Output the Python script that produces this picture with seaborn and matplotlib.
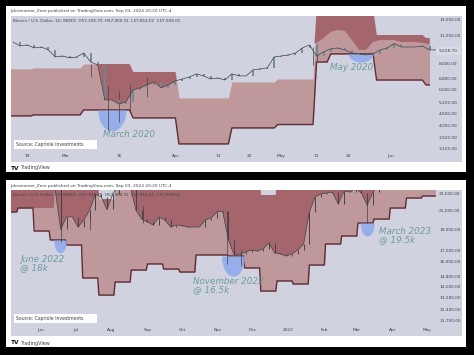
import matplotlib
matplotlib.use("Agg")
import matplotlib.pyplot as plt
import matplotlib.dates as mdates
from matplotlib.patches import Rectangle
from matplotlib.ticker import NullLocator
import numpy as np
import pandas as pd
import seaborn as sns

# ---- top chart (2020), prices
top_start = "2020-02-15"
top_close = [10180, 9740, 9850, 9530, 9630, 9320, 8620, 8715, 8525, 8620, 9000, 8150, 7880, 5345, 5345,
             5110, 5225, 5970, 6110, 6320, 6530, 6110, 6320, 6605, 6750, 6900, 7140, 6980, 6750, 6825,
             6670, 7140, 6980, 6980, 7465, 7550, 7630, 8620, 8715, 8815, 9000, 9530, 9850, 8715, 9120,
             9430, 9530, 9320, 9000, 8915, 8815, 8915, 9320, 9530, 10000, 9630, 9630, 9630, 9740, 9320, 9320]
top_wave = [10070, 10640, 11380, 11630, 11500, 10400, 9320, 9320, 10180, 10400, 10400, 10400, 10180,
            10180, 10180, 10070, 9960, 9740]
top_wick_dates = ["2020-03-08", "2020-03-13", "2020-03-16", "2020-03-19", "2020-05-10", "2020-05-11", "2020-03-24"]
top_wick_low = [6900, 3830, 4200, 4650, 7900, 8200, 5500]
top_wick_high = [8000, 6300, 5900, 6400, 9600, 9900, 6900]
top_band_dates = ["2020-02-14", "2020-02-21", "2020-03-06", "2020-03-20", "2020-04-02", "2020-04-17",
                  "2020-04-30", "2020-05-11", "2020-05-15", "2020-05-28", "2020-06-11"]
top_lower = [4475, 4525, 4782, 4376, 3277, 3915, 4065, 8150, 8915, 6670, 6315]
top_upper = [7550, 7630, 7970, 7295, 5465, 6525, 6750, 14500, 14500, 11000, 10640]
top_end = "2020-06-12"
top_ticks = [13000, 11000, 9228.7, 8000, 6800, 6000, 5200, 4600, 4000, 3500, 3100]
top_ticklabels = ["13,000.00", "11,000.00", "9,228.70", "8,000.00", "6,800.00", "6,000.00", "5,200.00",
                  "4,600.00", "4,000.00", "3,500.00", "3,100.00"]
top_xdates = ["2020-02-19", "2020-03-01", "2020-03-16", "2020-04-01", "2020-04-13", "2020-04-22",
              "2020-05-01", "2020-05-11", "2020-05-20", "2020-06-01"]
top_xlabels = ["19", "Mar", "16", "Apr", "13", "22", "May", "11", "20", "Jun"]

# ---- bottom chart (2022-23)
bot_start = "2022-06-13"
bot_close = [23600, 18970, 20270, 20270, 19210, 19940, 21020, 22880, 22520, 21080, 22880, 24000, 24300,
             23900, 21020, 20040, 19730, 19415, 20270, 19940, 19210, 19415, 19350, 19210, 19210, 19210,
             19940, 20150, 20800, 20900, 17940, 16570, 16660, 16830, 17010, 16920, 17100, 17650, 16750,
             16660, 16480, 16660, 17010, 17560, 20800, 22520, 22880, 23000, 23120, 21700, 23240, 23120,
             23600, 23000, 21570, 23120, 24000]
bot_floor_dates = ["2022-05-06", "2022-05-11", "2022-05-12", "2022-06-12"]
bot_floor = [20800, 20800, 21245, 21245]
bot_wick_dates = ["2022-06-18", "2022-07-13", "2022-08-28", "2022-11-09", "2022-11-21", "2023-03-10"]
bot_wick_low = [17700, 18900, 19600, 15800, 15600, 19620]
bot_wick_high = [21000, 20800, 21500, 20900, 17000, 22500]
bot_band_dates = ["2022-04-28", "2022-05-12", "2022-05-26", "2022-06-09", "2022-06-23", "2022-07-07",
                  "2022-07-21", "2022-08-04", "2022-08-18", "2022-09-01", "2022-09-15", "2022-09-29",
                  "2022-10-13", "2022-10-27", "2022-11-10", "2022-11-24", "2022-12-08", "2022-12-22",
                  "2023-01-05", "2023-01-19", "2023-02-02", "2023-02-16", "2023-03-02", "2023-03-16",
                  "2023-03-30", "2023-04-13", "2023-04-27"]
bot_lower = [20800, 21245, 18810, 17940, 17465, 14670, 13400, 14360, 15300, 15800, 15380, 15140, 16570,
             16570, 16480, 15470, 13690, 14440, 14210, 15710, 17560, 18320, 19620, 20040, 21245, 22400, 22640]
bot_upper = [26000, 26000, 26000, 26000, 26000, 26000, 22280, 26000, 26000, 26000, 26000, 26000, 26000,
             26000, 26000, 26000, 22760, 26000, 26000, 26000, 26000, 26000, 26000, 26000, 26000, 26000, 26000]
bot_end = "2023-05-08"
bot_ticks = [23000, 21000, 19000, 17000, 16000, 14800, 14000, 13200, 12400, 11700]
bot_ticklabels = ["23,000.00", "21,000.00", "19,000.00", "17,000.00", "16,000.00", "14,800.00", "14,000.00",
                  "13,200.00", "12,400.00", "11,700.00"]
bot_xdates = ["2022-06-01", "2022-07-01", "2022-08-01", "2022-09-01", "2022-10-01", "2022-11-01",
              "2022-12-01", "2023-01-01", "2023-02-01", "2023-03-01", "2023-04-01", "2023-05-01"]
bot_xlabels = ["Jun", "Jul", "Aug", "Sep", "Oct", "Nov", "Dec", "2023", "Feb", "Mar", "Apr", "May"]

# blue zones: start, end, top price, lowest price
top_zones = [("2020-03-10", "2020-03-18", 4782, 3790), ("2020-05-20", "2020-05-27", 8915, 8150)]
bot_zones = [("2022-06-12", "2022-06-23", 17940, 16750), ("2022-11-04", "2022-11-24", 16480, 14820),
             ("2023-03-04", "2023-03-16", 19620, 18320)]

BG = "#d0d3df"
BAND = "#bf989b"
DARK = "#a4666c"
LINE = "#5e2c36"
BLUE = "#8fa8ee"
NOTE = "#6e9a9e"
INK = "#3c4148"
W, H = 474, 355


def daily(dates, levels, end):
    s = pd.Series(levels, index=pd.to_datetime(dates), dtype=float)
    return s.reindex(pd.date_range(s.index[0], end)).ffill()


def px_text(x, y, s, **kw):
    fig.text(x / W, 1 - y / H, s, **kw)


def px_rect(x0, y0, x1, y1, color, z=0):
    fig.add_artist(Rectangle((x0 / W, 1 - y1 / H), (x1 - x0) / W, (y1 - y0) / H, transform=fig.transFigure,
                             color=color, lw=0, zorder=z))


def draw_panel(ax, close_dates, close, floor, lower, upper, wd, wl, wh, zones, ticks, ticklabels, xd, xl,
               candle_lw, candle_color):
    ax.set_facecolor(BG)
    ax.grid(False)
    for sp in ax.spines.values():
        sp.set_visible(False)
    ax.fill_between(lower.index, lower.values, upper.values, color=BAND, lw=0, zorder=1)
    floor_daily = np.interp(lower.index.asi8, floor.index.asi8, floor.values)
    ax.fill_between(lower.index, floor_daily, upper.values, where=floor_daily < upper.values, interpolate=True,
                    color=DARK, lw=0, zorder=2)
    sns.lineplot(x=lower.index, y=lower.values, ax=ax, color=LINE, lw=1.0, zorder=3)
    for start, end, hi, lo in zones:
        a, b = mdates.date2num(pd.Timestamp(start)), mdates.date2num(pd.Timestamp(end))
        t = np.linspace(-1, 1, 50)
        curve = np.exp(np.log(hi) + (np.log(lo) - np.log(hi)) * np.sqrt(1 - t ** 2))
        ax.fill_between((a + b) / 2 + t * (b - a) / 2, curve, hi, color=BLUE, alpha=0.85, lw=0, zorder=4)
    ax.vlines(pd.to_datetime(wd), wl, wh, color=INK, lw=0.5, zorder=5)
    ax.vlines(close_dates[1:], close[:-1], close[1:], color=candle_color, lw=candle_lw, zorder=5)
    sns.lineplot(x=close_dates, y=close, ax=ax, color=INK, lw=0.5, zorder=6)
    ax.set_yscale("log")
    ax.yaxis.set_minor_locator(NullLocator())
    ax.yaxis.tick_right()
    ax.set_yticks(ticks)
    ax.set_yticklabels(ticklabels)
    ax.set_xticks(pd.to_datetime(xd))
    ax.set_xticklabels(xl)
    ax.tick_params(axis="y", which="both", length=0, pad=-16.5, labelsize=3.1, labelcolor=INK)
    ax.tick_params(axis="x", which="both", length=0, pad=-5.5, labelsize=3.1, labelcolor=INK)
    ax.set_xlabel("")
    ax.set_ylabel("")


sns.set_theme(style="white")
plt.rcParams["font.family"] = ["DejaVu Sans"]
fig = plt.figure(figsize=(W / 100, H / 100), dpi=100, facecolor="black")

px_rect(6, 6, 466, 172, "white")
px_rect(6, 180, 466, 347, "white")

ax1 = fig.add_axes([11 / W, 1 - 162 / H, 451 / W, 146 / H])
ax2 = fig.add_axes([11 / W, 1 - 336 / H, 451 / W, 146 / H])

t_dates = pd.date_range(top_start, periods=len(top_close), freq="2D")
t_floor = pd.Series(top_close[:-len(top_wave)] + top_wave, index=t_dates, dtype=float)
draw_panel(ax1, t_dates, np.array(top_close, dtype=float), t_floor,
           daily(top_band_dates, top_lower, top_end), daily(top_band_dates, top_upper, top_end),
           top_wick_dates, top_wick_low, top_wick_high, top_zones, top_ticks, top_ticklabels,
           top_xdates, top_xlabels, 1.3, "#6d8a8e")
ax1.set_xlim(pd.Timestamp("2020-02-14 10:00"), pd.Timestamp("2020-06-21 05:00"))
ax1.set_ylim(2680, 13590)

b_dates = pd.date_range(bot_start, periods=len(bot_close), freq="5D")
b_floor = pd.concat([pd.Series(bot_floor, index=pd.to_datetime(bot_floor_dates), dtype=float),
                     pd.Series(bot_close, index=b_dates, dtype=float)])
b_lower = daily(bot_band_dates, bot_lower, bot_end)["2022-05-06":]
b_upper = daily(bot_band_dates, bot_upper, bot_end)["2022-05-06":]
draw_panel(ax2, b_dates, np.array(bot_close, dtype=float), b_floor, b_lower, b_upper,
           bot_wick_dates, bot_wick_low, bot_wick_high, bot_zones, bot_ticks, bot_ticklabels,
           bot_xdates, bot_xlabels, 0.7, "#4a4045")
ax2.set_xlim(pd.Timestamp("2022-05-06"), pd.Timestamp("2023-05-31"))
ax2.set_ylim(10790, 23370)

# last price tag on the top axis
px_rect(436, 47, 461, 55, "#d9dbe4", z=5)
px_text(439, 51, "9,228.70", fontsize=3.1, color=INK, va="center", zorder=6)

# headers
header = "Jokranomar_Zero published on TradingView.com, Sep 03, 2024 20:20 UTC-4"
legend = "Bitcoin / U.S. Dollar, 1D, INDEX  O57,326.70  H57,960.31  L57,814.00  C57,938.01"
px_text(10, 11, header, fontsize=3.1, color=INK, va="center", zorder=6)
px_text(10, 186, header, fontsize=3.1, color=INK, va="center", zorder=6)
px_text(13, 21, legend, fontsize=3.0, color=INK, va="center", zorder=6)
px_text(13, 195, legend, fontsize=3.0, color=INK, va="center", zorder=6)

# source boxes
for y in (144.5, 318.5):
    px_rect(14, y - 4.5, 97, y + 4.5, "white", z=5)
    px_text(16, y, "Source: Capriole Investments", fontsize=3.3, color=INK, va="center", zorder=6)

# footers
for y in (168, 343):
    px_text(10.5, y, "TV", fontsize=4.2, color="#111111", va="center", fontweight="bold", zorder=6)
    px_text(20, y, "TradingView", fontsize=3.5, color=INK, va="center", zorder=6)

# notes
notes = [(103, 135, "March 2020"), (330, 68, "May 2020"), (20, 259, "June 2022"), (20, 268, "@ 18k"),
         (193, 281, "November 2022"), (193, 290, "@ 16.5k"), (379, 232, "March 2023"), (379, 240, "@ 19.5k")]
for x, y, s in notes:
    px_text(x, y, s, fontsize=6.3, style="italic", color=NOTE, va="center", zorder=6)

fig.savefig("out.png", dpi=100, facecolor="black")
